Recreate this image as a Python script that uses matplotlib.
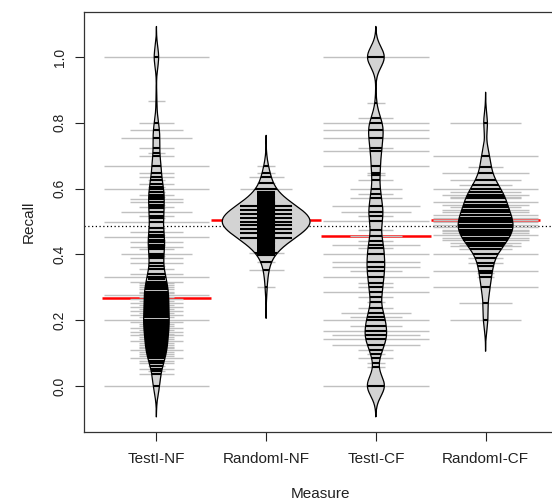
import numpy as np
import matplotlib.pyplot as plt

plt.rcParams['font.family'] = ['Liberation Sans', 'DejaVu Sans']

# ------------------------------------
groups = ['TestI-NF', 'RandomI-NF', 'TestI-CF', 'RandomI-CF']

# Recall values per group and how many observations share each value.
testi_nf_vals = [1.0, 0.866, 0.80, 0.778, 0.753, 0.722, 0.708, 0.70, 0.669, 0.646,
                 0.636, 0.625, 0.613, 0.605, 0.598, 0.59, 0.58, 0.575, 0.567, 0.558,
                 0.55, 0.545, 0.54, 0.53, 0.518, 0.51, 0.50,
                 0.48, 0.469, 0.46, 0.452, 0.445, 0.439, 0.43, 0.423, 0.415, 0.401,
                 0.395, 0.388, 0.373, 0.365, 0.356, 0.34, 0.332, 0.325, 0.317,
                 0.312, 0.306, 0.300, 0.294, 0.287, 0.282, 0.277, 0.270, 0.264, 0.258,
                 0.251, 0.245, 0.239, 0.233, 0.227, 0.221, 0.215, 0.209, 0.200, 0.195,
                 0.189, 0.183, 0.177, 0.171, 0.165, 0.159, 0.155, 0.148, 0.142, 0.136,
                 0.130, 0.125, 0.119, 0.114, 0.109, 0.103, 0.097, 0.090, 0.084, 0.077,
                 0.069, 0.062, 0.051, 0.044, 0.036, 0.0]
testi_nf_counts = [6, 1, 2, 3, 4, 2, 1, 2, 6, 2,
                   2, 1, 2, 1, 6, 1, 2, 1, 3, 3,
                   1, 2, 1, 4, 2, 1, 6,
                   1, 3, 1, 6, 1, 3, 1, 3, 2, 4,
                   1, 3, 3, 1, 2, 3, 6, 1, 3,
                   2, 2, 2, 2, 2, 2, 6, 2, 3, 2,
                   3, 2, 3, 2, 3, 2, 3, 2, 6, 3,
                   2, 2, 3, 2, 3, 2, 3, 2, 2, 3,
                   2, 2, 2, 2, 3, 2, 2, 2, 3, 2,
                   2, 1, 2, 1, 2, 6]

randomi_nf_vals = [0.669, 0.646, 0.636, 0.616, 0.600, 0.590, 0.585,
                   0.579, 0.575, 0.571, 0.567, 0.563,
                   0.560, 0.558, 0.556, 0.554, 0.552, 0.550, 0.548, 0.546, 0.544, 0.542,
                   0.540, 0.538, 0.536, 0.534, 0.532, 0.530, 0.528, 0.526, 0.524, 0.522,
                   0.520, 0.518, 0.516, 0.514, 0.513, 0.512, 0.511, 0.510, 0.509, 0.508,
                   0.507, 0.506, 0.505, 0.504, 0.503, 0.502, 0.501, 0.500, 0.499, 0.498,
                   0.497, 0.496, 0.495, 0.494, 0.493, 0.492, 0.491, 0.490, 0.489, 0.488,
                   0.487, 0.486, 0.484, 0.482, 0.480,
                   0.478, 0.476, 0.474, 0.472, 0.470, 0.468, 0.466, 0.464, 0.462, 0.460,
                   0.458, 0.456, 0.454, 0.452, 0.450, 0.448, 0.446, 0.444, 0.442, 0.440,
                   0.437, 0.433, 0.429, 0.425, 0.421,
                   0.415, 0.410, 0.404, 0.398, 0.378, 0.353, 0.300]
randomi_nf_counts = [1, 1, 2, 1, 3, 1, 1,
                     1, 1, 1, 1, 1,
                     1, 1, 1, 1, 1, 1, 3, 1, 1, 1,
                     1, 1, 3, 1, 1, 1, 1, 1, 3, 1,
                     1, 1, 1, 1, 1, 3, 1, 1, 1, 1,
                     1, 1, 1, 1, 1, 1, 1, 3, 1, 1,
                     1, 1, 1, 1, 1, 1, 1, 1, 1, 3,
                     1, 1, 1, 1, 1,
                     1, 3, 1, 1, 1, 1, 1, 3, 1, 1,
                     1, 1, 1, 1, 3, 1, 1, 1, 1, 1,
                     1, 1, 1, 1, 1,
                     1, 1, 2, 1, 1, 2, 1]

testi_cf_vals = [1.0, 0.859, 0.814, 0.80, 0.778, 0.753, 0.725, 0.714, 0.669, 0.646,
                 0.64, 0.626, 0.60, 0.584, 0.57, 0.547, 0.53, 0.517, 0.502, 0.474,
                 0.456, 0.44, 0.428, 0.418, 0.401, 0.376, 0.363, 0.35, 0.332, 0.314,
                 0.302, 0.287, 0.271, 0.256, 0.236, 0.221, 0.211, 0.20, 0.182, 0.166,
                 0.155, 0.142, 0.125, 0.109, 0.096, 0.084, 0.071, 0.057, 0.0]
testi_cf_counts = [20, 1, 2, 6, 6, 6, 2, 6, 6, 1,
                   1, 2, 3, 2, 3, 5, 4, 2, 6, 2,
                   3, 2, 5, 2, 6, 5, 5, 3, 6, 2,
                   2, 6, 2, 1, 2, 4, 3, 6, 3, 6,
                   5, 6, 5, 2, 1, 2, 1, 1, 20]

randomi_cf_vals = [0.80, 0.70, 0.667, 0.648, 0.626, 0.61, 0.60, 0.59, 0.58, 0.575,
                   0.57, 0.56, 0.55, 0.545, 0.535, 0.528, 0.52, 0.51, 0.505, 0.50,
                   0.49, 0.484, 0.475, 0.47, 0.465, 0.46, 0.45, 0.445, 0.435, 0.43,
                   0.425, 0.415, 0.40, 0.39, 0.375, 0.365, 0.35, 0.342, 0.33, 0.30,
                   0.251, 0.20]
randomi_cf_counts = [4, 6, 2, 5, 4, 3, 6, 4, 5, 4,
                     4, 6, 5, 4, 5, 5, 6, 6, 6, 6,
                     6, 6, 5, 5, 5, 6, 5, 5, 4, 3,
                     4, 3, 6, 2, 2, 1, 6, 1, 1, 6,
                     3, 4]

# Group averages (red lines) and overall average (dotted line).
group_means = [0.267, 0.504, 0.455, 0.504]
overall_mean = 0.486

all_vals = [testi_nf_vals, randomi_nf_vals, testi_cf_vals, randomi_cf_vals]
all_counts = [testi_nf_counts, randomi_nf_counts, testi_cf_counts, randomi_cf_counts]

# Bean shapes: weighted gaussian kernel density per group
# -------------------------------------------------------
bw = 0.031
ll = 0.08          # half line length per observation
max_half = 0.4     # half of maxwidth
dens = []
for vals, counts in zip(all_vals, all_counts):
    v = np.array(vals)
    c = np.array(counts, dtype=float)
    y = np.linspace(v.min() - 3 * bw, v.max() + 3 * bw, 400)
    d = (c[None, :] * np.exp(-0.5 * ((y[:, None] - v[None, :]) / bw) ** 2)).sum(1)
    d /= c.sum() * bw * np.sqrt(2 * np.pi)
    dens.append((y, d))
scale = max_half / max(d.max() for _, d in dens)

fig = plt.figure(figsize=(5.52, 5.03), dpi=100)
ax = fig.add_axes([84 / 552, 1 - 432 / 503, 474 / 552, 420 / 503])

ax.axhline(overall_mean, color='black', ls=(0, (1, 2)), lw=0.9, zorder=1)

for i, (vals, counts) in enumerate(zip(all_vals, all_counts)):
    pos = i + 1
    y, d = dens[i]
    w = d * scale
    ax.hlines(group_means[i], pos - 0.5, pos + 0.5, color='red', lw=1.8, zorder=2)
    ax.fill_betweenx(y, pos - w, pos + w, color='#d3d3d3', lw=0, zorder=3)
    for v, c in zip(vals, counts):
        half = min(ll * c, 0.48)
        inside = min(half, np.interp(v, y, w))
        ax.hlines(v, pos - half, pos + half, color='#c0c0c0', lw=1.0, zorder=4)
        ax.hlines(v, pos - inside, pos + inside, color='black', lw=1.5, zorder=5)
    ax.plot(np.r_[pos - w, (pos + w)[::-1], pos - w[0]],
            np.r_[y, y[::-1], y[0]], color='black', lw=0.9, zorder=6)

ax.set_xlim(0.34, 4.66)
ax.set_ylim(-0.14, 1.137)
ax.set_xticks(range(1, 5))
ax.set_xticklabels(groups)
ax.set_yticks([0.0, 0.2, 0.4, 0.6, 0.8, 1.0])
ax.set_yticklabels(['0.0', '0.2', '0.4', '0.6', '0.8', '1.0'], rotation=90, va='center')
ax.tick_params(axis='x', length=6.5, width=0.8, labelsize=11, pad=8, colors='#222222')
ax.tick_params(axis='y', length=6.5, width=0.8, labelsize=10, pad=6, colors='#222222')
for s in ax.spines.values():
    s.set_linewidth(0.9)
    s.set_color('#333333')
ax.set_xlabel('Measure', fontsize=11, color='#222222', labelpad=15)
ax.set_ylabel('Recall', fontsize=11, color='#222222', labelpad=12)

plt.savefig('out.png', dpi=100)
